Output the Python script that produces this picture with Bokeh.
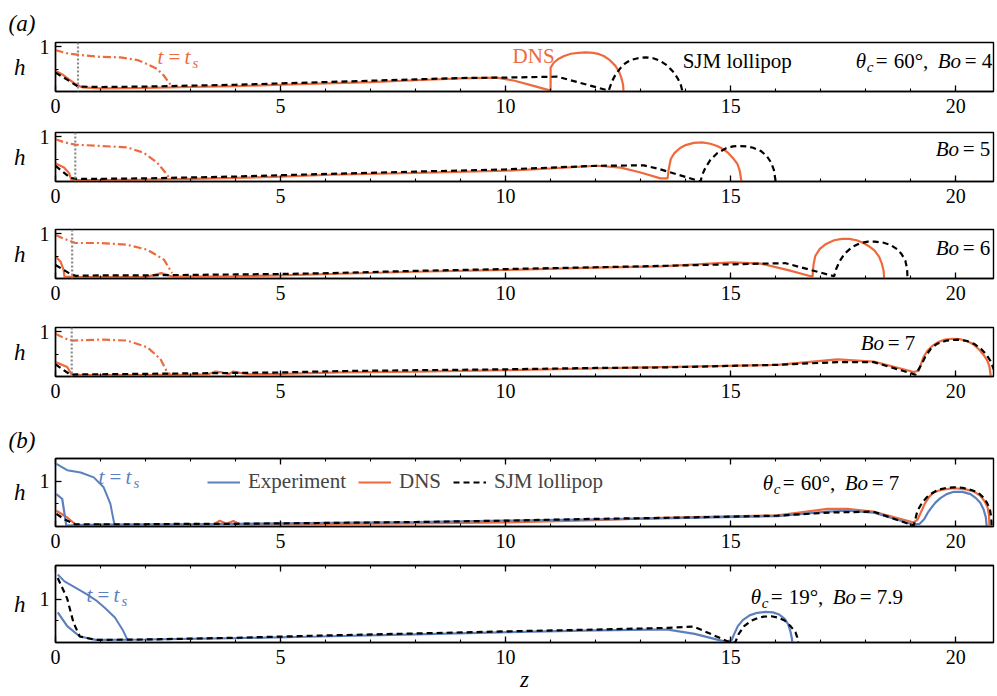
from bokeh.plotting import figure
from bokeh.layouts import column
from bokeh.models import (Range1d, SingleIntervalTicker, FixedTicker, LinearAxis, Label,
                          Span, Legend, LegendItem, CustomJSTickFormatter)
from bokeh.embed import file_html
from bokeh.resources import INLINE

ORANGE = "#EE6A3C"
BLUE = "#5C80BD"
GRAY = "#8A8A8A"
FONT = "Liberation Serif"

# ---------------- data ----------------
bond_numbers = [4, 5, 6, 7]
ts_line_z = [0.50, 0.44, 0.37, 0.36]   # grey dotted marker position per (a) panel

# (a) Bo = 4
a1_dns_z = [0.0, 0.15, 0.3, 0.45, 0.6, 1.0, 2.0, 3.0, 4.0, 5.0, 6.0, 7.0, 8.0, 9.0, 9.8, 10.2, 10.6, 11.0, 11.0, 11.07, 11.18, 11.3, 11.45, 11.62, 11.78, 11.95, 12.08, 12.18, 12.3, 12.44, 12.52, 12.57, 12.61, 12.62]
a1_dns_h = [0.46, 0.38, 0.27, 0.16, 0.09, 0.07, 0.08, 0.10, 0.12, 0.15, 0.18, 0.21, 0.25, 0.29, 0.31, 0.24, 0.13, 0.02, 0.53, 0.64, 0.73, 0.79, 0.84, 0.86, 0.87, 0.86, 0.83, 0.79, 0.71, 0.57, 0.44, 0.31, 0.15, 0.0]
a1_sjm_z = [0.0, 0.25, 0.5, 1.0, 2.0, 3.0, 4.0, 5.0, 6.0, 7.0, 8.0, 9.0, 10.0, 11.15, 12.29, 12.33, 12.37, 12.45, 12.56, 12.66, 12.78, 12.94, 13.11, 13.28, 13.44, 13.6, 13.74, 13.83, 13.89, 13.93]
a1_sjm_h = [0.42, 0.27, 0.11, 0.10, 0.11, 0.13, 0.15, 0.18, 0.21, 0.24, 0.27, 0.30, 0.31, 0.33, 0.02, 0.13, 0.24, 0.39, 0.53, 0.63, 0.70, 0.74, 0.76, 0.74, 0.68, 0.57, 0.42, 0.28, 0.16, 0.0]
a1_ts_z = [0.0, 0.26, 0.56, 1.0, 1.44, 1.82, 2.04, 2.26, 2.41, 2.52, 2.6]
a1_ts_h = [0.92, 0.85, 0.81, 0.77, 0.76, 0.70, 0.61, 0.50, 0.35, 0.20, 0.09]

# (a) Bo = 5
a2_dns_z = [0.0, 0.19, 0.30, 0.35, 0.5, 1.0, 2.0, 3.0, 4.0, 5.0, 6.1, 8.0, 10.0, 11.0, 12.04, 12.56, 13.0, 13.44, 13.6, 13.62, 13.67, 13.75, 13.87, 14.0, 14.18, 14.37, 14.55, 14.7, 14.85, 14.95, 15.07, 15.15, 15.2, 15.24]
a2_dns_h = [0.40, 0.31, 0.19, 0.04, 0.03, 0.03, 0.04, 0.06, 0.08, 0.11, 0.15, 0.19, 0.24, 0.29, 0.35, 0.31, 0.20, 0.07, 0.07, 0.25, 0.50, 0.63, 0.74, 0.81, 0.86, 0.87, 0.84, 0.79, 0.71, 0.63, 0.50, 0.39, 0.25, 0.0]
a2_sjm_z = [0.0, 0.33, 0.48, 1.0, 2.0, 3.0, 4.0, 5.0, 6.1, 8.0, 10.0, 12.04, 13.07, 13.44, 14.33, 14.37, 14.44, 14.55, 14.7, 14.9, 15.05, 15.18, 15.35, 15.5, 15.67, 15.8, 15.9, 15.96, 16.0]
a2_sjm_h = [0.35, 0.08, 0.06, 0.06, 0.07, 0.09, 0.11, 0.14, 0.17, 0.22, 0.27, 0.35, 0.36, 0.27, 0.0, 0.15, 0.31, 0.48, 0.63, 0.74, 0.78, 0.79, 0.78, 0.75, 0.68, 0.57, 0.42, 0.26, 0.0]
a2_ts_z = [0.0, 0.2, 0.44, 1.0, 1.59, 1.96, 2.26, 2.44, 2.52]
a2_ts_h = [0.94, 0.87, 0.82, 0.79, 0.76, 0.64, 0.42, 0.20, 0.09]

# (a) Bo = 6
a3_dns_z = [0.0, 0.11, 0.18, 0.2, 0.5, 1.0, 2.0, 2.2, 2.35, 2.48, 2.6, 3.0, 4.0, 5.0, 6.1, 8.0, 10.0, 12.0, 13.44, 15.04, 15.67, 16.3, 16.82, 16.84, 16.88, 16.98, 17.12, 17.3, 17.47, 17.63, 17.8, 17.95, 18.1, 18.2, 18.3, 18.36, 18.4, 18.41]
a3_dns_h = [0.49, 0.38, 0.19, 0.04, 0.03, 0.03, 0.03, 0.08, 0.12, 0.08, 0.04, 0.04, 0.05, 0.07, 0.10, 0.15, 0.19, 0.24, 0.27, 0.36, 0.33, 0.18, 0.04, 0.30, 0.50, 0.66, 0.77, 0.85, 0.88, 0.88, 0.85, 0.79, 0.70, 0.62, 0.48, 0.33, 0.16, 0.0]
a3_sjm_z = [0.0, 0.3, 0.44, 1.0, 2.0, 3.0, 4.0, 5.0, 6.1, 8.0, 10.0, 12.0, 13.44, 15.67, 16.22, 17.3, 17.34, 17.42, 17.53, 17.7, 17.89, 18.05, 18.2, 18.38, 18.55, 18.7, 18.8, 18.88, 18.92, 18.93]
a3_sjm_h = [0.30, 0.12, 0.06, 0.07, 0.07, 0.08, 0.09, 0.10, 0.12, 0.17, 0.21, 0.25, 0.28, 0.33, 0.34, 0.05, 0.20, 0.38, 0.55, 0.70, 0.79, 0.82, 0.82, 0.80, 0.75, 0.65, 0.54, 0.40, 0.22, 0.0]
a3_ts_z = [0.0, 0.2, 0.44, 1.0, 1.59, 2.04, 2.41, 2.59]
a3_ts_h = [0.97, 0.88, 0.79, 0.79, 0.75, 0.64, 0.42, 0.12]

# (a) Bo = 7
a4_dns_z = [0.0, 0.26, 0.36, 0.6, 1.0, 2.0, 3.0, 3.4, 3.55, 3.7, 3.85, 3.95, 4.1, 4.3, 5.0, 6.3, 8.0, 10.0, 12.0, 13.44, 16.04, 17.37, 18.18, 19.07, 19.18, 19.22, 19.28, 19.37, 19.48, 19.6, 19.76, 19.93, 20.1, 20.25, 20.4, 20.52, 20.62, 20.7, 20.75, 20.78]
a4_dns_h = [0.32, 0.21, 0.04, 0.03, 0.03, 0.03, 0.04, 0.05, 0.11, 0.09, 0.05, 0.11, 0.08, 0.05, 0.06, 0.09, 0.11, 0.14, 0.18, 0.21, 0.26, 0.38, 0.33, 0.10, 0.13, 0.25, 0.42, 0.57, 0.68, 0.76, 0.82, 0.84, 0.83, 0.79, 0.71, 0.60, 0.48, 0.36, 0.22, 0.0]
a4_sjm_z = [0.0, 0.33, 0.6, 1.0, 2.0, 3.0, 4.0, 5.0, 6.3, 8.0, 10.0, 12.0, 13.44, 16.04, 17.37, 18.18, 19.11, 19.16, 19.24, 19.33, 19.45, 19.59, 19.8, 20.04, 20.25, 20.42, 20.56, 20.68, 20.77, 20.83, 20.87, 20.89]
a4_sjm_h = [0.27, 0.04, 0.05, 0.05, 0.06, 0.07, 0.08, 0.09, 0.12, 0.14, 0.16, 0.19, 0.20, 0.26, 0.32, 0.32, 0.04, 0.13, 0.27, 0.45, 0.62, 0.73, 0.80, 0.82, 0.79, 0.72, 0.62, 0.49, 0.35, 0.20, 0.10, 0.0]
a4_ts_z = [0.0, 0.2, 0.37, 1.0, 1.59, 2.04, 2.33, 2.48, 2.55]
a4_ts_h = [0.95, 0.85, 0.80, 0.82, 0.80, 0.65, 0.39, 0.10, 0.05]

# (b) theta_c = 60 deg, Bo = 7
b1_exp_ts_z = [0.02, 0.26, 0.56, 0.85, 1.07, 1.22, 1.3, 1.32]
b1_exp_ts_h = [1.39, 1.25, 1.20, 1.09, 0.87, 0.50, 0.09, 0.04]
b1_exp_z = [0.02, 0.15, 0.2, 0.24, 0.5, 1.0, 2.0, 3.0, 4.0, 5.0, 6.1, 8.0, 10.0, 12.0, 13.44, 16.04, 17.15, 17.59, 18.17, 19.07, 19.2, 19.3, 19.37, 19.44, 19.55, 19.66, 19.8, 19.96, 20.15, 20.33, 20.45, 20.55, 20.62, 20.67, 20.69]
b1_exp_h = [0.72, 0.61, 0.28, 0.02, 0.03, 0.04, 0.05, 0.05, 0.06, 0.07, 0.08, 0.10, 0.13, 0.16, 0.18, 0.23, 0.33, 0.35, 0.31, 0.04, 0.06, 0.16, 0.29, 0.39, 0.53, 0.63, 0.72, 0.77, 0.77, 0.72, 0.63, 0.52, 0.38, 0.20, 0.0]
b1_dns_z = [0.02, 0.26, 0.44, 0.6, 1.0, 2.0, 3.0, 3.5, 3.65, 3.8, 3.95, 4.1, 4.3, 5.0, 6.1, 8.0, 10.0, 12.0, 13.44, 16.04, 17.15, 17.59, 18.17, 19.07, 19.15, 19.22, 19.32, 19.42, 19.52, 19.7, 19.96, 20.2, 20.4, 20.55, 20.65, 20.71, 20.74, 20.75]
b1_dns_h = [0.35, 0.20, 0.05, 0.03, 0.03, 0.03, 0.04, 0.04, 0.13, 0.06, 0.12, 0.05, 0.04, 0.05, 0.06, 0.07, 0.09, 0.14, 0.19, 0.25, 0.39, 0.39, 0.33, 0.09, 0.15, 0.30, 0.52, 0.67, 0.76, 0.82, 0.85, 0.83, 0.78, 0.68, 0.55, 0.42, 0.25, 0.0]
b1_sjm_z = [0.02, 0.2, 0.44, 1.0, 2.0, 3.0, 4.0, 5.0, 6.1, 8.0, 10.0, 12.0, 13.44, 16.04, 17.2, 18.17, 19.07, 19.1, 19.15, 19.25, 19.35, 19.44, 19.6, 19.8, 19.96, 20.15, 20.35, 20.5, 20.62, 20.7, 20.76, 20.79, 20.8]
b1_sjm_h = [0.28, 0.16, 0.05, 0.05, 0.05, 0.06, 0.06, 0.07, 0.08, 0.10, 0.13, 0.17, 0.19, 0.24, 0.31, 0.33, 0.02, 0.15, 0.35, 0.52, 0.64, 0.72, 0.81, 0.86, 0.87, 0.86, 0.81, 0.75, 0.64, 0.52, 0.38, 0.20, 0.0]

# (b) theta_c = 19 deg, Bo = 7.9
b2_exp_ts_z = [0.05, 0.2, 0.47, 0.7, 0.9, 1.1, 1.32, 1.5, 1.6]
b2_exp_ts_h = [1.58, 1.42, 1.26, 1.12, 0.98, 0.80, 0.58, 0.28, 0.06]
b2_exp_z = [0.05, 0.26, 0.54, 0.9, 2.0, 4.0, 5.84, 8.0, 10.08, 12.0, 13.2, 13.61, 14.2, 14.88, 15.02, 15.08, 15.16, 15.27, 15.42, 15.59, 15.77, 15.94, 16.08, 16.2, 16.28, 16.33, 16.36, 16.37]
b2_exp_h = [0.70, 0.38, 0.14, 0.06, 0.07, 0.10, 0.14, 0.19, 0.24, 0.28, 0.30, 0.30, 0.20, 0.02, 0.05, 0.20, 0.38, 0.52, 0.63, 0.69, 0.71, 0.70, 0.65, 0.55, 0.42, 0.25, 0.10, 0.0]
b2_sjm_z = [0.05, 0.26, 0.4, 0.54, 0.9, 2.0, 4.0, 5.84, 8.0, 10.08, 12.0, 13.61, 14.18, 14.95, 15.1, 15.18, 15.3, 15.45, 15.6, 15.73, 15.9, 16.05, 16.2, 16.33, 16.44, 16.48, 16.5]
b2_sjm_h = [1.50, 1.02, 0.46, 0.14, 0.06, 0.07, 0.11, 0.16, 0.21, 0.26, 0.30, 0.34, 0.37, 0.02, 0.0, 0.20, 0.38, 0.50, 0.57, 0.60, 0.61, 0.58, 0.51, 0.38, 0.24, 0.12, 0.0]

# ---------------- helpers ----------------
X0_PX = 55.0
PX_PER_Z = 45.0
TXT = "21px"


def style_bottom(ax, show_labels=True):
    ax.ticker = SingleIntervalTicker(interval=5, num_minor_ticks=5)
    ax.axis_line_width = 1.4
    ax.axis_line_color = "black"
    ax.major_tick_in = 6
    ax.major_tick_out = 0
    ax.minor_tick_in = 3
    ax.minor_tick_out = 0
    ax.major_tick_line_width = 1.3
    ax.minor_tick_line_width = 1.1
    ax.major_label_text_font = FONT
    ax.major_label_text_font_size = "20px"
    ax.major_label_text_color = "black"
    ax.major_label_text_line_height = 1.0
    ax.major_label_standoff = 7
    if not show_labels:
        ax.formatter = CustomJSTickFormatter(code="return ''")
        ax.major_label_standoff = 0


def make_fig(H, T, B, ymax, top_ticks):
    p = figure(width=997, height=H, x_range=Range1d(0, 20.84), y_range=Range1d(0, ymax),
               output_backend="svg", toolbar_location=None,
               min_border_left=55, min_border_right=4, min_border_top=T, min_border_bottom=B)
    p.xgrid.visible = False
    p.ygrid.visible = False
    p.outline_line_color = "black"
    p.outline_line_width = 1.4
    p.outline_line_alpha = 1.0
    p.background_fill_color = "white"
    p.border_fill_color = "white"
    style_bottom(p.below[0])
    ya = p.left[0]
    ya.ticker = FixedTicker(ticks=[1], minor_ticks=[0.5])
    ya.axis_line_width = 1.4
    ya.major_tick_in = 6
    ya.major_tick_out = 0
    ya.minor_tick_in = 3
    ya.minor_tick_out = 0
    ya.major_tick_line_width = 1.3
    ya.major_label_text_font = FONT
    ya.major_label_text_font_size = "20px"
    ya.major_label_text_color = "black"
    ya.major_label_standoff = 6
    ya.axis_label = "h"
    ya.axis_label_text_font = FONT
    ya.axis_label_text_font_size = "23px"
    ya.axis_label_text_font_style = "italic"
    ya.axis_label_text_color = "black"
    ya.axis_label_standoff = 11
    try:
        ya.axis_label_orientation = "horizontal"
    except Exception:
        pass
    if top_ticks:
        ta = LinearAxis()
        style_bottom(ta, show_labels=False)
        p.add_layout(ta, "above")
    return p


def put(p, fb, sc, px, py, text, size=TXT, style="normal", color="black", align="left"):
    p.add_layout(Label(x=(px - X0_PX) / PX_PER_Z, y=(fb - py) / sc, text=text,
                       text_font=FONT, text_font_size=size, text_font_style=style,
                       text_color=color, text_align=align, text_baseline="middle"))


def panel_tag(p, text, standoff):
    p.title.text = text
    p.title.align = "left"
    p.title.offset = -47
    p.title.standoff = standoff
    p.title.text_font = FONT
    p.title.text_font_size = "23px"
    p.title.text_font_style = "italic"
    p.title.text_color = "black"


def draw_a(p, dns, sjm, ts, gz):
    p.line(ts[0], ts[1], color=ORANGE, line_width=2.2, line_dash="8 3 2 3")
    p.add_layout(Span(location=gz, dimension="height", line_color=GRAY,
                      line_width=2.2, line_dash="2 2"))
    p.line(dns[0], dns[1], color=ORANGE, line_width=2.2)
    p.line(sjm[0], sjm[1], color="black", line_width=2.2, line_dash="6 4")


def theta_label(p, fb, sc, x0, y, angle_txt, bo_txt):
    put(p, fb, sc, x0, y, "\u03b8", style="italic")
    put(p, fb, sc, x0 + 11, y + 6, "c", size="15px", style="italic")
    put(p, fb, sc, x0 + 20, y, "=")
    put(p, fb, sc, x0 + 38, y, angle_txt)
    put(p, fb, sc, x0 + 82, y, "Bo", style="italic")
    put(p, fb, sc, x0 + 109, y, "=")
    put(p, fb, sc, x0 + 126, y, bo_txt)


def bo_label(p, fb, sc, x0, y, bo_txt):
    put(p, fb, sc, x0, y, "Bo", style="italic")
    put(p, fb, sc, x0 + 27, y, "=")
    put(p, fb, sc, x0 + 44, y, bo_txt)


def ts_label(p, fb, sc, x0, y, color):
    put(p, fb, sc, x0, y, "t", style="italic", color=color)
    put(p, fb, sc, x0 + 11, y, "=", color=color)
    put(p, fb, sc, x0 + 27, y, "t", style="italic", color=color)
    put(p, fb, sc, x0 + 35, y + 6, "s", size="15px", style="italic", color=color)


# ---------------- (a) panels ----------------
A_YMAX = 1.09
geom_a = [  # (height, top border, bottom border, frame bottom px in page)
    (125, 42, 34, 91),
    (90, 7, 34, 181),
    (97, 14, 34, 278),
    (98, 15, 34, 376),
]
data_a = [
    ((a1_dns_z, a1_dns_h), (a1_sjm_z, a1_sjm_h), (a1_ts_z, a1_ts_h)),
    ((a2_dns_z, a2_dns_h), (a2_sjm_z, a2_sjm_h), (a2_ts_z, a2_ts_h)),
    ((a3_dns_z, a3_dns_h), (a3_sjm_z, a3_sjm_h), (a3_ts_z, a3_ts_h)),
    ((a4_dns_z, a4_dns_h), (a4_sjm_z, a4_sjm_h), (a4_ts_z, a4_ts_h)),
]
figs = []
for i, ((H, T, B, fb), (dns, sjm, ts)) in enumerate(zip(geom_a, data_a)):
    p = make_fig(H, T, B, A_YMAX, False)
    draw_a(p, dns, sjm, ts, ts_line_z[i])
    figs.append(p)

fa1, fa2, fa3, fa4 = figs
panel_tag(fa1, "(a)", 14)
ts_label(fa1, 91, 45, 157, 56, ORANGE)
put(fa1, 91, 45, 512, 55, "DNS", color=ORANGE)
put(fa1, 91, 45, 682, 60, "SJM lollipop")
theta_label(fa1, 91, 45, 855, 60, "60\u00b0,", "%d" % bond_numbers[0])
bo_label(fa2, 181, 45, 935, 148, "%d" % bond_numbers[1])
bo_label(fa3, 278, 45, 935, 247, "%d" % bond_numbers[2])
bo_label(fa4, 376, 45, 860, 342, "%d" % bond_numbers[3])

# ---------------- (b) panel 1 ----------------
pb1 = make_fig(146, 48, 30, 1.51, True)
pb1.line(b1_exp_ts_z, b1_exp_ts_h, color=BLUE, line_width=2.0)
r_dns = pb1.line(b1_dns_z, b1_dns_h, color=ORANGE, line_width=2.2)
r_exp = pb1.line(b1_exp_z, b1_exp_h, color=BLUE, line_width=2.2)
r_sjm = pb1.line(b1_sjm_z, b1_sjm_h, color="black", line_width=2.2, line_dash="6 4")
leg = Legend(items=[LegendItem(label="Experiment", renderers=[r_exp]),
                    LegendItem(label="DNS", renderers=[r_dns]),
                    LegendItem(label="SJM lollipop", renderers=[r_sjm])],
             orientation="horizontal", location=(152, 32), padding=0, margin=0,
             spacing=12, glyph_width=33, glyph_height=20, label_standoff=8,
             label_text_font=FONT, label_text_font_size=TXT,
             border_line_alpha=0, background_fill_alpha=0)
pb1.add_layout(leg)
panel_tag(pb1, "(b)", 12)
ts_label(pb1, 526, 45, 98, 477, BLUE)
theta_label(pb1, 526, 45, 762, 483, "60\u00b0,", "7")

# ---------------- (b) panel 2 ----------------
pb2 = make_fig(140, 9, 54, 1.79, True)
pb2.line(b2_exp_ts_z, b2_exp_ts_h, color=BLUE, line_width=2.0)
pb2.line(b2_exp_z, b2_exp_h, color=BLUE, line_width=2.2)
pb2.line(b2_sjm_z, b2_sjm_h, color="black", line_width=2.2, line_dash="6 4")
ts_label(pb2, 642, 43, 86, 595, BLUE)
theta_label(pb2, 642, 43, 750, 597, "19\u00b0,", "7.9")
xb = pb2.below[0]
xb.axis_label = "z"
xb.axis_label_text_font = FONT
xb.axis_label_text_font_size = "23px"
xb.axis_label_text_font_style = "italic"
xb.axis_label_text_color = "black"
xb.axis_label_standoff = 0
xb.axis_label_text_line_height = 0.9

layout = column(fa1, fa2, fa3, fa4, pb1, pb2, spacing=0)
open("out.html", "w").write(file_html(layout, INLINE))
